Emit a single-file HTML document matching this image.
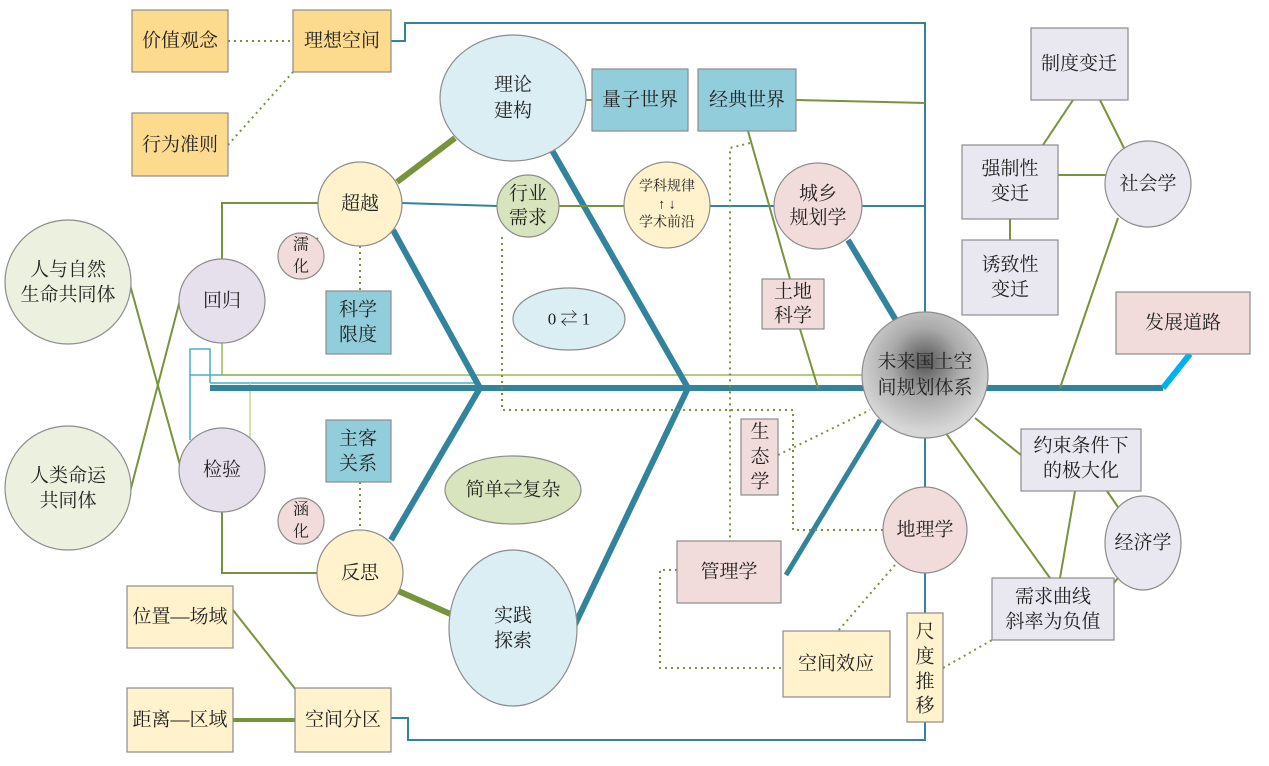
<!DOCTYPE html>
<html><head><meta charset="utf-8"><style>
html,body{margin:0;padding:0;background:#fff;}
svg text{font-family:"Liberation Serif","Noto Serif CJK SC",serif;font-size:19px;fill:#222;text-anchor:middle;dominant-baseline:central;}
</style></head><body>
<svg width="1269" height="761" viewBox="0 0 1269 761" xmlns="http://www.w3.org/2000/svg">
<defs>
<radialGradient id="g" cx="50%" cy="40%" r="55%"><stop offset="0" stop-color="#555"/><stop offset="0.5" stop-color="#aaa"/><stop offset="1" stop-color="#d6d6d6"/></radialGradient>
</defs>
<g fill="none">
<polyline points="391,41 405,41 405,23 925,23 925,313" stroke="#31849b" stroke-width="2"/>
<polyline points="402,203 497,206" stroke="#31849b" stroke-width="2"/>
<polyline points="710,206 774,206" stroke="#31849b" stroke-width="2"/>
<polyline points="862,206 925,206" stroke="#31849b" stroke-width="2"/>
<polyline points="190,440 190,349 210,349 210,383" stroke="#4bacc6" stroke-width="1.5"/>
<polyline points="210,383 480,383" stroke="#4bacc6" stroke-width="1.5"/>
<polyline points="190,375 400,375" stroke="#4bacc6" stroke-width="1.5"/>
<polyline points="250,440 250,383" stroke="#c4d79b" stroke-width="1.5"/>
<polyline points="222,343 222,375 862,375" stroke="#9bbb59" stroke-width="1.5"/>
<polyline points="925,438 925,488" stroke="#31849b" stroke-width="2"/>
<polyline points="925,573 925,613" stroke="#31849b" stroke-width="2"/>
<polyline points="925,722 925,740 408,740 408,718 391,718" stroke="#31849b" stroke-width="2"/>
<polyline points="210,388 1163,388" stroke="#31849b" stroke-width="6"/>
<polyline points="1163,388 1190,354" stroke="#00b0f0" stroke-width="6"/>
<polyline points="393,230 480,388 391,540" stroke="#31849b" stroke-width="6"/>
<polyline points="549,145 688,388 570,635" stroke="#31849b" stroke-width="6"/>
<polyline points="848,240 897,322" stroke="#31849b" stroke-width="6"/>
<polyline points="880,420 786,575" stroke="#31849b" stroke-width="5"/>
<g stroke="#77933c" stroke-width="2">
<line x1="585" y1="100" x2="592" y2="100"/>
<line x1="796" y1="100" x2="925" y2="103"/>
<line x1="559" y1="206" x2="624" y2="206"/>
<polyline points="318,203 222,203 222,259"/>
<line x1="318" y1="238" x2="306" y2="250"/>
<line x1="318" y1="538" x2="310" y2="530"/>
<polyline points="222,512 222,573 317,573"/>
<line x1="130" y1="285" x2="180" y2="465"/>
<line x1="130" y1="492" x2="180" y2="300"/>
<line x1="748" y1="131" x2="790" y2="279"/>
<line x1="800" y1="329" x2="818" y2="388"/>
<line x1="975" y1="418" x2="1021" y2="455"/>
<line x1="945" y1="432" x2="1050" y2="578"/>
<line x1="1075" y1="491" x2="1060" y2="578"/>
<line x1="1107" y1="491" x2="1120" y2="510"/>
<line x1="1123" y1="572" x2="1108" y2="590"/>
<line x1="1118" y1="218" x2="1060" y2="388"/>
<line x1="1073" y1="100" x2="1043" y2="145"/>
<line x1="1100" y1="100" x2="1125" y2="150"/>
<line x1="1058" y1="175" x2="1106" y2="175"/>
<line x1="1010" y1="219" x2="1010" y2="240"/>
<line x1="233" y1="610" x2="300" y2="695"/>
</g>
<line x1="397" y1="182" x2="455" y2="138" stroke="#77933c" stroke-width="6"/>
<line x1="396" y1="590" x2="455" y2="616" stroke="#77933c" stroke-width="6"/>
<line x1="233" y1="720" x2="295" y2="720" stroke="#77933c" stroke-width="4"/>
<g stroke="#77933c" stroke-width="2" stroke-dasharray="2,4">
<line x1="228" y1="41" x2="293" y2="41"/>
<line x1="228" y1="145" x2="293" y2="72"/>
<line x1="360" y1="246" x2="360" y2="291"/>
<line x1="360" y1="482" x2="360" y2="530"/>
<polyline points="502,237 502,410 793,410 793,530 883,530"/>
<polyline points="750,143 730,148 730,541"/>
<line x1="778" y1="455" x2="870" y2="410"/>
<polyline points="677,570 660,570 660,668 783,668"/>
<line x1="895" y1="565" x2="838" y2="631"/>
<line x1="943" y1="668" x2="992" y2="640"/>
</g>
</g>
<g stroke="#8c8c8c" stroke-width="1.2">
<rect x="132" y="10" width="96" height="62" fill="#fddb8e"/>
<rect x="293" y="10" width="98" height="62" fill="#fddb8e"/>
<rect x="132" y="113" width="96" height="63" fill="#fddb8e"/>
<rect x="592" y="69" width="96" height="62" fill="#92cddc"/>
<rect x="698" y="69" width="98" height="62" fill="#92cddc"/>
<rect x="1031" y="28" width="97" height="72" fill="#e9e7f0"/>
<rect x="962" y="145" width="96" height="74" fill="#e9e7f0"/>
<rect x="962" y="240" width="96" height="75" fill="#e9e7f0"/>
<rect x="1116" y="292" width="134" height="62" fill="#f2dcdb"/>
<rect x="326" y="291" width="65" height="63" fill="#92cddc"/>
<rect x="762" y="279" width="62" height="50" fill="#f2dcdb"/>
<rect x="326" y="420" width="65" height="62" fill="#92cddc"/>
<rect x="127" y="586" width="106" height="62" fill="#fff2cc"/>
<rect x="127" y="688" width="106" height="64" fill="#fff2cc"/>
<rect x="295" y="688" width="96" height="64" fill="#fff2cc"/>
<rect x="741" y="419" width="37" height="76" fill="#f2dcdb"/>
<rect x="677" y="541" width="104" height="62" fill="#f2dcdb"/>
<rect x="783" y="631" width="107" height="66" fill="#fff2cc"/>
<rect x="907" y="613" width="36" height="109" fill="#fff2cc"/>
<rect x="1021" y="429" width="120" height="62" fill="#e9e7f0"/>
<rect x="992" y="578" width="122" height="62" fill="#e9e7f0"/>
<ellipse cx="513" cy="98" rx="73" ry="63" fill="#dbeef4"/>
<ellipse cx="1148" cy="184" rx="43" ry="43" fill="#e9e7f0"/>
<ellipse cx="360" cy="204" rx="42" ry="42" fill="#fff2cc"/>
<ellipse cx="301" cy="256" rx="23" ry="23" fill="#f2dcdb"/>
<ellipse cx="528" cy="206" rx="31" ry="31" fill="#d7e4bd"/>
<ellipse cx="667" cy="205" rx="43" ry="43" fill="#fff2cc"/>
<ellipse cx="818" cy="206" rx="44" ry="43" fill="#f2dcdb"/>
<ellipse cx="222" cy="301" rx="43" ry="42" fill="#e5e0ec"/>
<ellipse cx="68" cy="282" rx="63" ry="62" fill="#ebf1de"/>
<ellipse cx="569" cy="319" rx="56" ry="31" fill="#dbeef4"/>
<ellipse cx="925" cy="375" rx="63" ry="63" fill="url(#g)"/>
<ellipse cx="68" cy="488" rx="63" ry="62" fill="#ebf1de"/>
<ellipse cx="222" cy="470" rx="43" ry="42" fill="#e5e0ec"/>
<ellipse cx="513" cy="490" rx="68" ry="34" fill="#d7e4bd"/>
<ellipse cx="301" cy="521" rx="23" ry="23" fill="#f2dcdb"/>
<ellipse cx="360" cy="573" rx="43" ry="43" fill="#fff2cc"/>
<ellipse cx="513" cy="628" rx="64" ry="78" fill="#dbeef4"/>
<ellipse cx="925" cy="530" rx="42" ry="43" fill="#f2dcdb"/>
<ellipse cx="1143" cy="543" rx="38" ry="47" fill="#e9e7f0"/>
</g>
<text x="180" y="41">价值观念</text>
<text x="342" y="41">理想空间</text>
<text x="180" y="145">行为准则</text>
<text x="640" y="100">量子世界</text>
<text x="747" y="100">经典世界</text>
<text x="1079" y="64">制度变迁</text>
<text x="1010" y="169">强制性</text><text x="1010" y="194">变迁</text>
<text x="1010" y="265">诱致性</text><text x="1010" y="290">变迁</text>
<text x="1183" y="323">发展道路</text>
<text x="358" y="310">科学</text><text x="358" y="335">限度</text>
<text x="793" y="292">土地</text><text x="793" y="316">科学</text>
<text x="358" y="439">主客</text><text x="358" y="464">关系</text>
<text x="180" y="617">位置—场域</text>
<text x="180" y="720">距离—区域</text>
<text x="343" y="720">空间分区</text>
<text x="760" y="432">生</text><text x="760" y="457">态</text><text x="760" y="482">学</text>
<text x="729" y="572">管理学</text>
<text x="836" y="664">空间效应</text>
<text x="925" y="632">尺</text><text x="925" y="657">度</text><text x="925" y="682">推</text><text x="925" y="706">移</text>
<text x="1081" y="446">约束条件下</text><text x="1081" y="471">的极大化</text>
<text x="1053" y="597">需求曲线</text><text x="1053" y="622">斜率为负值</text>
<text x="513" y="85">理论</text><text x="513" y="111">建构</text>
<text x="1148" y="184">社会学</text>
<text x="360" y="204">超越</text>
<text x="301" y="245" style="font-size:16px">濡</text><text x="301" y="267" style="font-size:16px">化</text>
<text x="528" y="194">行业</text><text x="528" y="218">需求</text>
<text x="667" y="187" style="font-size:14px">学科规律</text>
<text x="667" y="205" style="font-size:14px">↑ ↓</text>
<text x="667" y="223" style="font-size:14px">学术前沿</text>
<text x="818" y="194">城乡</text><text x="818" y="218">规划学</text>
<text x="222" y="301">回归</text>
<text x="68" y="270">人与自然</text><text x="68" y="295">生命共同体</text>
<text x="569" y="319" style="font-size:17px">0 ⇄ 1</text>
<text x="925" y="362">未来国土空</text><text x="925" y="388">间规划体系</text>
<text x="68" y="476">人类命运</text><text x="68" y="501">共同体</text>
<text x="222" y="470">检验</text>
<text x="513" y="490">简单⇄复杂</text>
<text x="301" y="510" style="font-size:16px">涵</text><text x="301" y="532" style="font-size:16px">化</text>
<text x="360" y="573">反思</text>
<text x="513" y="616">实践</text><text x="513" y="641">探索</text>
<text x="925" y="530">地理学</text>
<text x="1143" y="543">经济学</text>
</svg>
</body></html>
